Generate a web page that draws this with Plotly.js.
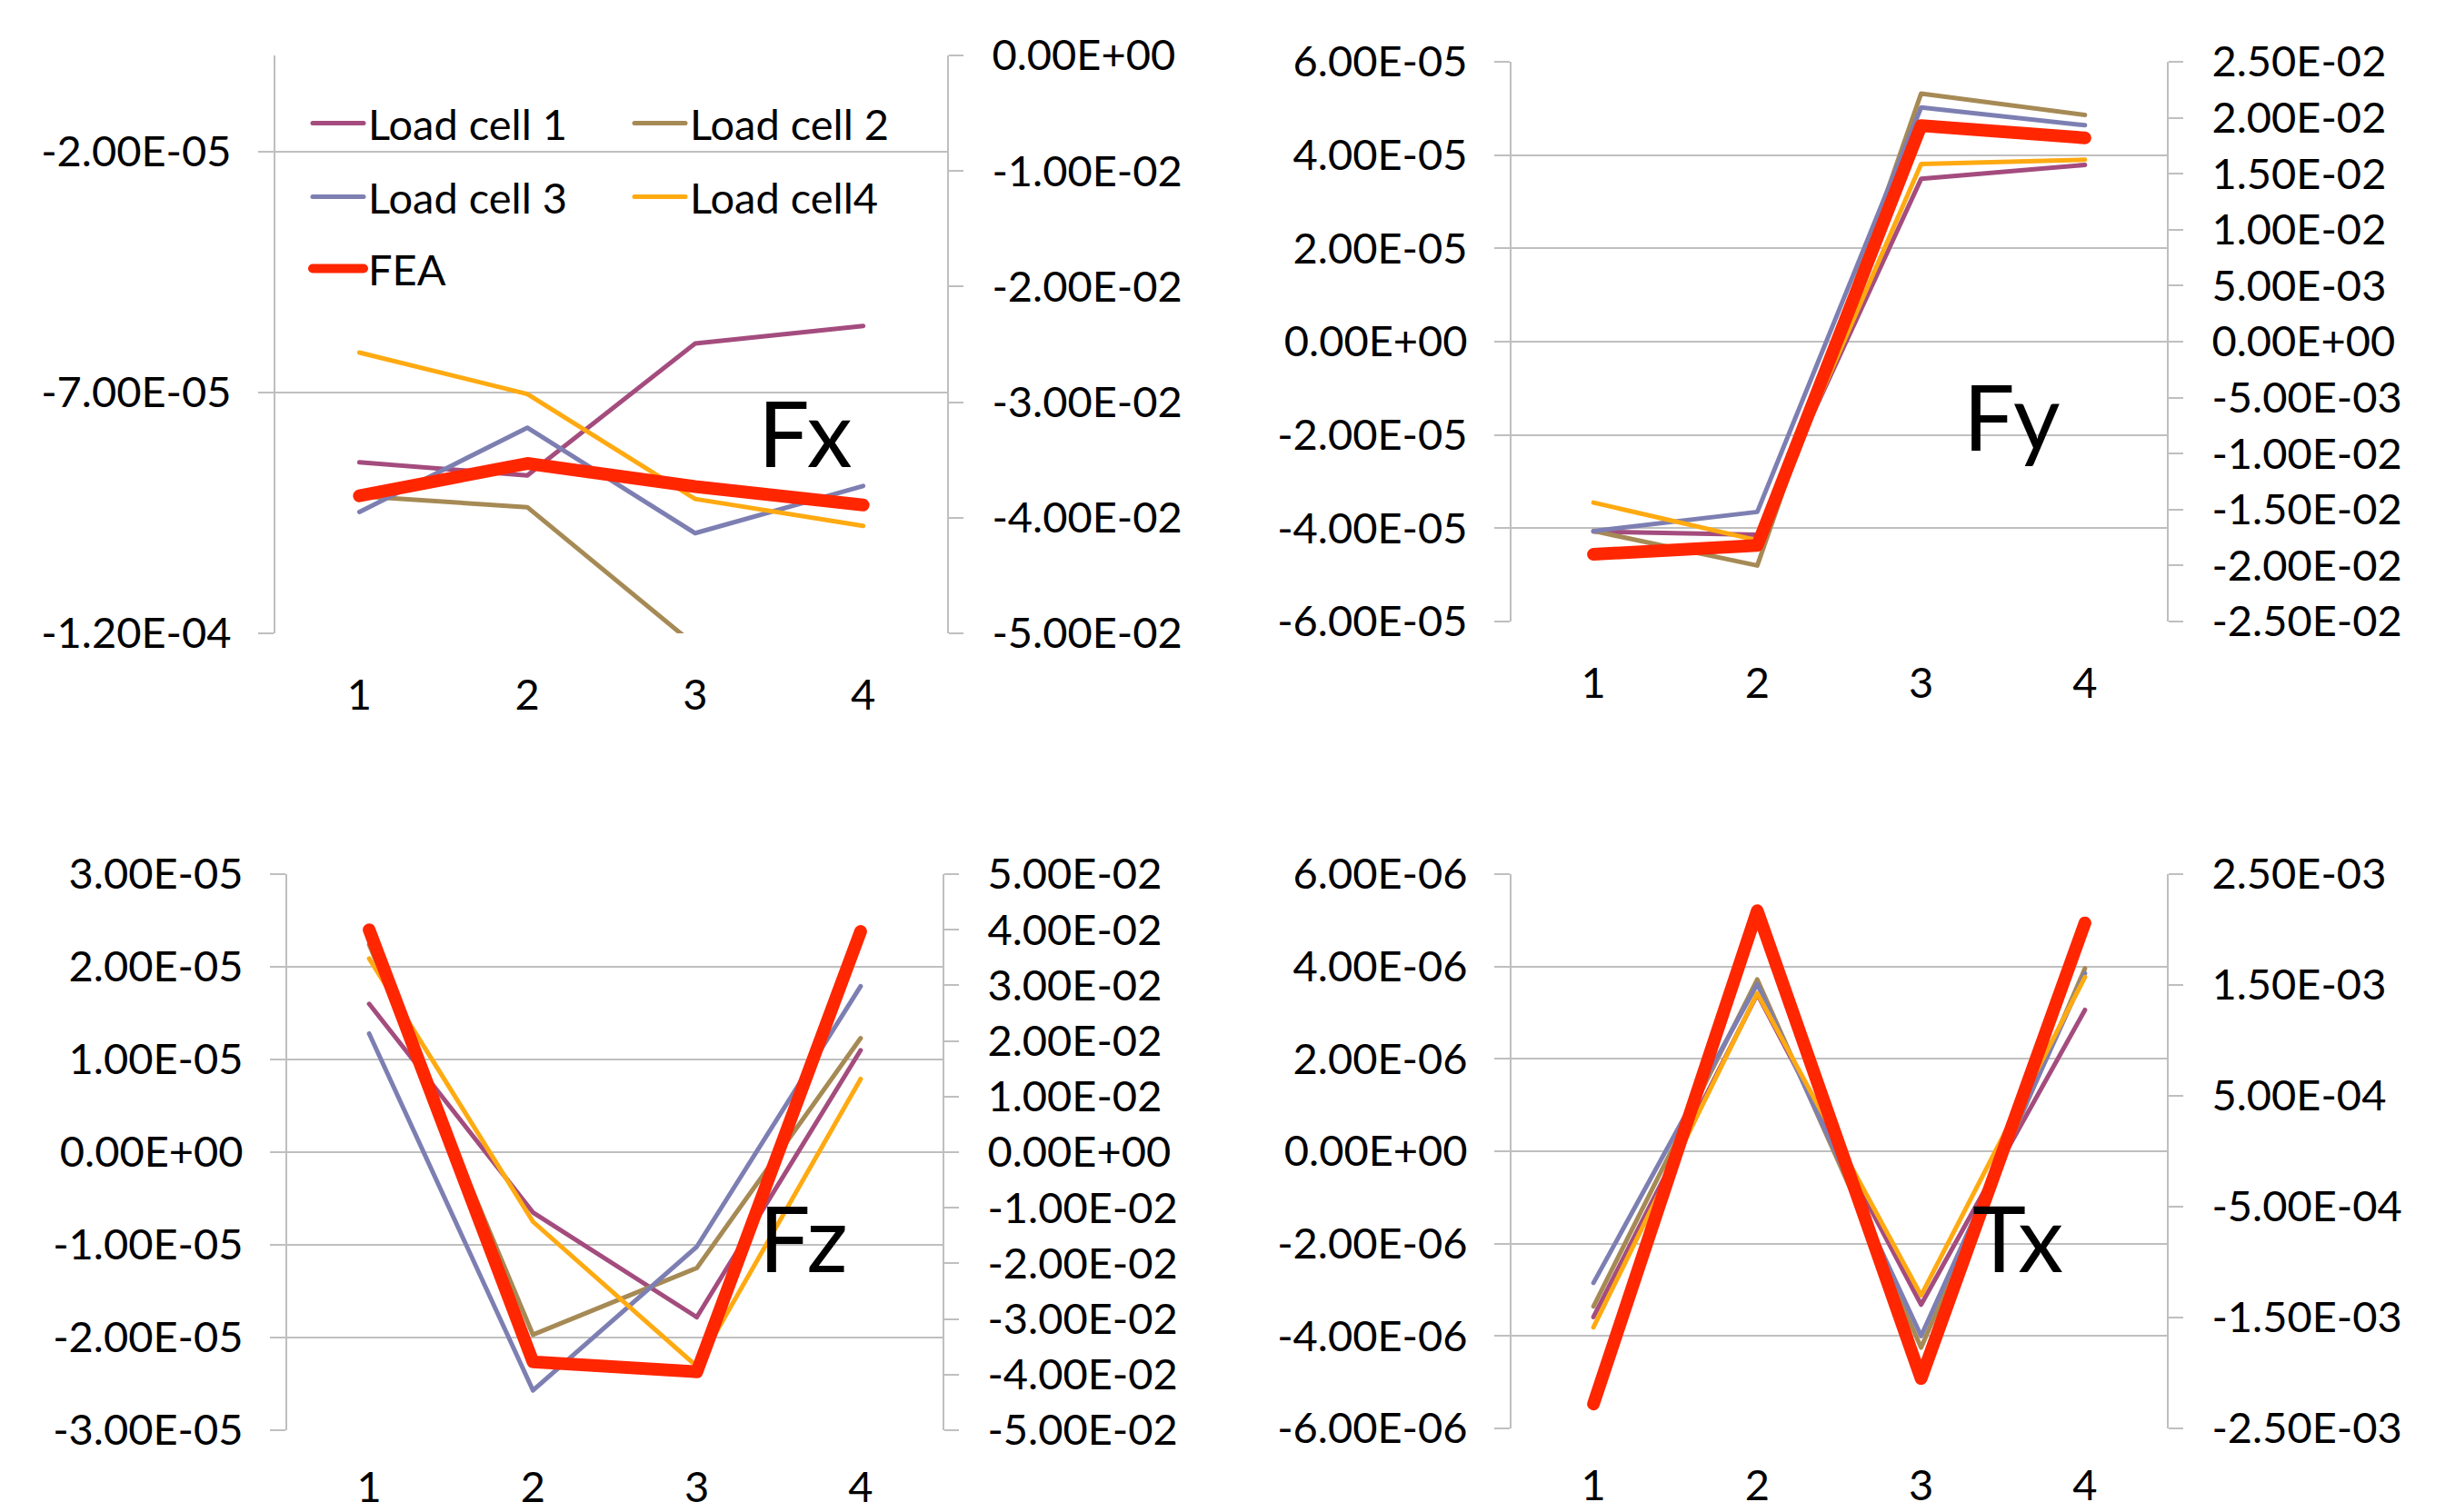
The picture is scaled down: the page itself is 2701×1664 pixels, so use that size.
<!DOCTYPE html>
<html>
<head>
<meta charset="utf-8">
<script src="https://cdn.plot.ly/plotly-3.0.1.min.js"></script>
<style>
html, body { margin: 0; padding: 0; background: #ffffff; }
#chart { width: 2701px; height: 1664px; }
.scatterlayer .js-line { stroke-linejoin: round; stroke-linecap: round; }
.legendlines path { stroke-linecap: round; }
</style>
</head>
<body>
<div id="chart"></div>
<script>
// ---------------- DATA ----------------
const categories = [1, 2, 3, 4];
const categoryLabels = ['1', '2', '3', '4'];
const seriesNames = ['Load cell 1', 'Load cell 2', 'Load cell 3', 'Load cell4', 'FEA'];
const panelNames = ['Fx', 'Fy', 'Fz', 'Tx'];

// Fx
const fxLoadCell1 = [-8.45e-5, -8.72e-5, -5.98e-5, -5.62e-5];
const fxLoadCell2 = [-9.15e-5, -9.38e-5, -1.225e-4, -1.30e-4];
const fxLoadCell3 = [-9.48e-5, -7.73e-5, -9.92e-5, -8.94e-5];
const fxLoadCell4 = [-6.17e-5, -7.03e-5, -9.21e-5, -9.77e-5];
const fxFEA = [-3.81e-2, -3.53e-2, -3.73e-2, -3.89e-2];

// Fy
const fyLoadCell1 = [-4.07e-5, -4.14e-5, 3.49e-5, 3.79e-5];
const fyLoadCell2 = [-4.06e-5, -4.80e-5, 5.32e-5, 4.86e-5];
const fyLoadCell3 = [-4.06e-5, -3.65e-5, 5.02e-5, 4.64e-5];
const fyLoadCell4 = [-3.45e-5, -4.26e-5, 3.81e-5, 3.90e-5];
const fyFEA = [-1.90e-2, -1.82e-2, 1.93e-2, 1.82e-2];

// Fz
const fzLoadCell1 = [1.60e-5, -6.5e-6, -1.78e-5, 1.10e-5];
const fzLoadCell2 = [2.24e-5, -1.97e-5, -1.25e-5, 1.23e-5];
const fzLoadCell3 = [1.28e-5, -2.57e-5, -1.02e-5, 1.79e-5];
const fzLoadCell4 = [2.09e-5, -7.5e-6, -2.31e-5, 7.9e-6];
const fzFEA = [4.0e-2, -3.77e-2, -3.95e-2, 3.97e-2];

// Tx
const txLoadCell1 = [-3.59e-6, 3.40e-6, -3.32e-6, 3.06e-6];
const txLoadCell2 = [-3.36e-6, 3.72e-6, -4.25e-6, 3.96e-6];
const txLoadCell3 = [-2.85e-6, 3.62e-6, -4.00e-6, 3.85e-6];
const txLoadCell4 = [-3.81e-6, 3.42e-6, -3.12e-6, 3.77e-6];
const txFEA = [-2.28e-3, 2.17e-3, -2.05e-3, 2.06e-3];

// Axis ticks (left = load cells, right = FEA)
const fxLeftRange = [-1.2e-4, 0];
const fxLeftTicks = [-1.2e-4, -7e-5, -2e-5];
const fxLeftLabels = ['-1.20E-04', '-7.00E-05', '-2.00E-05'];
const fxRightRange = [-0.05, 0];
const fxRightTicks = [-0.05, -0.04, -0.03, -0.02, -0.01, 0];
const fxRightLabels = ['-5.00E-02', '-4.00E-02', '-3.00E-02', '-2.00E-02', '-1.00E-02', '0.00E+00'];

const fyLeftRange = [-6e-5, 6e-5];
const fyLeftTicks = [-6e-5, -4e-5, -2e-5, 0, 2e-5, 4e-5, 6e-5];
const fyLeftLabels = ['-6.00E-05', '-4.00E-05', '-2.00E-05', '0.00E+00', '2.00E-05', '4.00E-05', '6.00E-05'];
const fyRightRange = [-0.025, 0.025];
const fyRightTicks = [-0.025, -0.02, -0.015, -0.01, -0.005, 0, 0.005, 0.01, 0.015, 0.02, 0.025];
const fyRightLabels = ['-2.50E-02', '-2.00E-02', '-1.50E-02', '-1.00E-02', '-5.00E-03', '0.00E+00', '5.00E-03', '1.00E-02', '1.50E-02', '2.00E-02', '2.50E-02'];

const fzLeftRange = [-3e-5, 3e-5];
const fzLeftTicks = [-3e-5, -2e-5, -1e-5, 0, 1e-5, 2e-5, 3e-5];
const fzLeftLabels = ['-3.00E-05', '-2.00E-05', '-1.00E-05', '0.00E+00', '1.00E-05', '2.00E-05', '3.00E-05'];
const fzRightRange = [-0.05, 0.05];
const fzRightTicks = [-0.05, -0.04, -0.03, -0.02, -0.01, 0, 0.01, 0.02, 0.03, 0.04, 0.05];
const fzRightLabels = ['-5.00E-02', '-4.00E-02', '-3.00E-02', '-2.00E-02', '-1.00E-02', '0.00E+00', '1.00E-02', '2.00E-02', '3.00E-02', '4.00E-02', '5.00E-02'];

const txLeftRange = [-6e-6, 6e-6];
const txLeftTicks = [-6e-6, -4e-6, -2e-6, 0, 2e-6, 4e-6, 6e-6];
const txLeftLabels = ['-6.00E-06', '-4.00E-06', '-2.00E-06', '0.00E+00', '2.00E-06', '4.00E-06', '6.00E-06'];
const txRightRange = [-2.5e-3, 2.5e-3];
const txRightTicks = [-2.5e-3, -1.5e-3, -5e-4, 5e-4, 1.5e-3, 2.5e-3];
const txRightLabels = ['-2.50E-03', '-1.50E-03', '-5.00E-04', '5.00E-04', '1.50E-03', '2.50E-03'];

// ---------------- STYLE / LAYOUT ----------------
const W = 2701, H = 1664;
const FONT = 'Lato, "Liberation Sans", Arial, sans-serif';
const GRID = '#BFBFBF';
const seriesColors = ['#A44C7E', '#A68A55', '#7D7FB2', '#FFAA11', '#FF2600'];
const seriesWidths = [5, 5, 5, 5, 14];
const legendIds = ['legend', 'legend', 'legend2', 'legend2', 'legend3'];

const panelData = [
  { lc: [fxLoadCell1, fxLoadCell2, fxLoadCell3, fxLoadCell4], fea: fxFEA,
    lr: fxLeftRange, lt: fxLeftTicks, ll: fxLeftLabels, rr: fxRightRange, rt: fxRightTicks, rl: fxRightLabels },
  { lc: [fyLoadCell1, fyLoadCell2, fyLoadCell3, fyLoadCell4], fea: fyFEA,
    lr: fyLeftRange, lt: fyLeftTicks, ll: fyLeftLabels, rr: fyRightRange, rt: fyRightTicks, rl: fyRightLabels },
  { lc: [fzLoadCell1, fzLoadCell2, fzLoadCell3, fzLoadCell4], fea: fzFEA,
    lr: fzLeftRange, lt: fzLeftTicks, ll: fzLeftLabels, rr: fzRightRange, rt: fzRightTicks, rl: fzRightLabels },
  { lc: [txLoadCell1, txLoadCell2, txLoadCell3, txLoadCell4], fea: txFEA,
    lr: txLeftRange, lt: txLeftTicks, ll: txLeftLabels, rr: txRightRange, rt: txRightTicks, rl: txRightLabels }
];

// plot-area boxes in pixels [left, right, top, bottom]
const boxes = [
  [303, 1042, 61, 697],
  [1663, 2384, 68, 684],
  [316, 1037, 962, 1574],
  [1663, 2384, 962, 1572]
];
const xStandoff = [36, 36, 31, 31];
// panel label centres in pixels
const labelPos = [[885, 475], [2213, 457], [884, 1361], [2220, 1361]];

const xRange = [categories[0] - 0.5, categories[categories.length - 1] + 0.5];
const boundaryTicks = [categories[0] - 0.5].concat(categories.map(c => c + 0.5));

const layout = {
  width: W, height: H,
  margin: { l: 0, r: 0, t: 0, b: 0, pad: 0 },
  paper_bgcolor: '#ffffff', plot_bgcolor: 'rgba(0,0,0,0)',
  font: { family: FONT, size: 47, color: '#000000' },
  showlegend: true,
  annotations: []
};
const traces = [];

panelData.forEach((p, i) => {
  const n = i + 1;
  const sfx = n === 1 ? '' : String(n);
  const b = boxes[i];
  const xd = [b[0] / W, b[1] / W];
  const yd = [1 - b[3] / H, 1 - b[2] / H];

  // category label axis (bottom)
  layout['xaxis' + sfx] = {
    domain: xd, range: xRange, anchor: 'y' + sfx,
    tickmode: 'array', tickvals: categories, ticktext: categoryLabels,
    showgrid: false, zeroline: false, showline: false, ticks: '',
    ticklabelstandoff: xStandoff[i], tickfont: { family: FONT, size: 47, color: '#000' },
    fixedrange: true
  };
  // horizontal axis line where the axes cross (top for Fx, zero for others)
  const zeroAxis = {
    overlaying: 'x' + sfx, range: xRange, showgrid: false, zeroline: false,
    showline: true, linecolor: GRID, linewidth: 2,
    tickmode: 'array', tickvals: boundaryTicks, ticklen: 16, tickwidth: 2, tickcolor: GRID,
    showticklabels: false, fixedrange: true
  };
  if (i === 0) {
    zeroAxis.side = 'top'; zeroAxis.anchor = 'y' + sfx; zeroAxis.ticks = 'inside';
  } else {
    zeroAxis.side = 'bottom'; zeroAxis.anchor = 'free'; zeroAxis.ticks = 'outside';
    zeroAxis.position = yd[0] + (0 - p.lr[0]) / (p.lr[1] - p.lr[0]) * (yd[1] - yd[0]);
  }
  layout['xaxis' + (n + 4)] = zeroAxis;

  // left axis (load cells)
  layout['yaxis' + sfx] = {
    domain: yd, range: p.lr, anchor: 'x' + sfx,
    tickmode: 'array', tickvals: p.lt, ticktext: p.ll,
    showgrid: true, gridcolor: GRID, gridwidth: 2,
    showline: true, linecolor: GRID, linewidth: 2,
    ticks: 'outside', ticklen: 17, tickwidth: 2, tickcolor: GRID,
    zeroline: false, ticklabelstandoff: 20,
    tickfont: { family: FONT, size: 47, color: '#000' }, fixedrange: true
  };
  // right axis (FEA)
  layout['yaxis' + (n + 4)] = {
    overlaying: 'y' + sfx, side: 'right', anchor: 'x' + sfx, range: p.rr,
    tickmode: 'array', tickvals: p.rt, ticktext: p.rl,
    showgrid: false, zeroline: false,
    showline: true, linecolor: GRID, linewidth: 2,
    ticks: 'outside', ticklen: 16, tickwidth: 2, tickcolor: GRID,
    ticklabelstandoff: 22,
    tickfont: { family: FONT, size: 47, color: '#000' }, fixedrange: true
  };

  p.lc.forEach((vals, s) => {
    traces.push({
      type: 'scatter', mode: 'lines', x: categories, y: vals,
      xaxis: 'x' + sfx, yaxis: 'y' + sfx,
      name: seriesNames[s], legend: legendIds[s], showlegend: i === 0,
      line: { color: seriesColors[s], width: seriesWidths[s] },
      hoverinfo: 'skip'
    });
  });
  traces.push({
    type: 'scatter', mode: 'lines', x: categories, y: p.fea,
    xaxis: 'x' + sfx, yaxis: 'y' + (n + 4),
    name: seriesNames[4], legend: legendIds[4], showlegend: i === 0,
    line: { color: seriesColors[4], width: seriesWidths[4] },
    hoverinfo: 'skip'
  });

  layout.annotations.push({
    text: panelNames[i], xref: 'paper', yref: 'paper',
    x: labelPos[i][0] / W, y: 1 - labelPos[i][1] / H,
    xanchor: 'center', yanchor: 'middle', showarrow: false,
    font: { family: FONT, size: 100, color: '#000' }
  });
});

const legendBase = {
  orientation: 'h', xanchor: 'left', yanchor: 'middle',
  bgcolor: 'rgba(0,0,0,0)', borderwidth: 0,
  font: { family: FONT, size: 47, color: '#000' },
  itemwidth: 56, entrywidth: 283, entrywidthmode: 'pixels',
  traceorder: 'normal', itemclick: false, itemdoubleclick: false
};
layout.legend = Object.assign({}, legendBase, { x: 339 / W, y: 1 - 136 / H });
layout.legend2 = Object.assign({}, legendBase, { x: 339 / W, y: 1 - 217 / H });
layout.legend3 = Object.assign({}, legendBase, { x: 339 / W, y: 1 - 296 / H });

Plotly.newPlot('chart', traces, layout, { staticPlot: true, displayModeBar: false });
</script>
</body>
</html>
